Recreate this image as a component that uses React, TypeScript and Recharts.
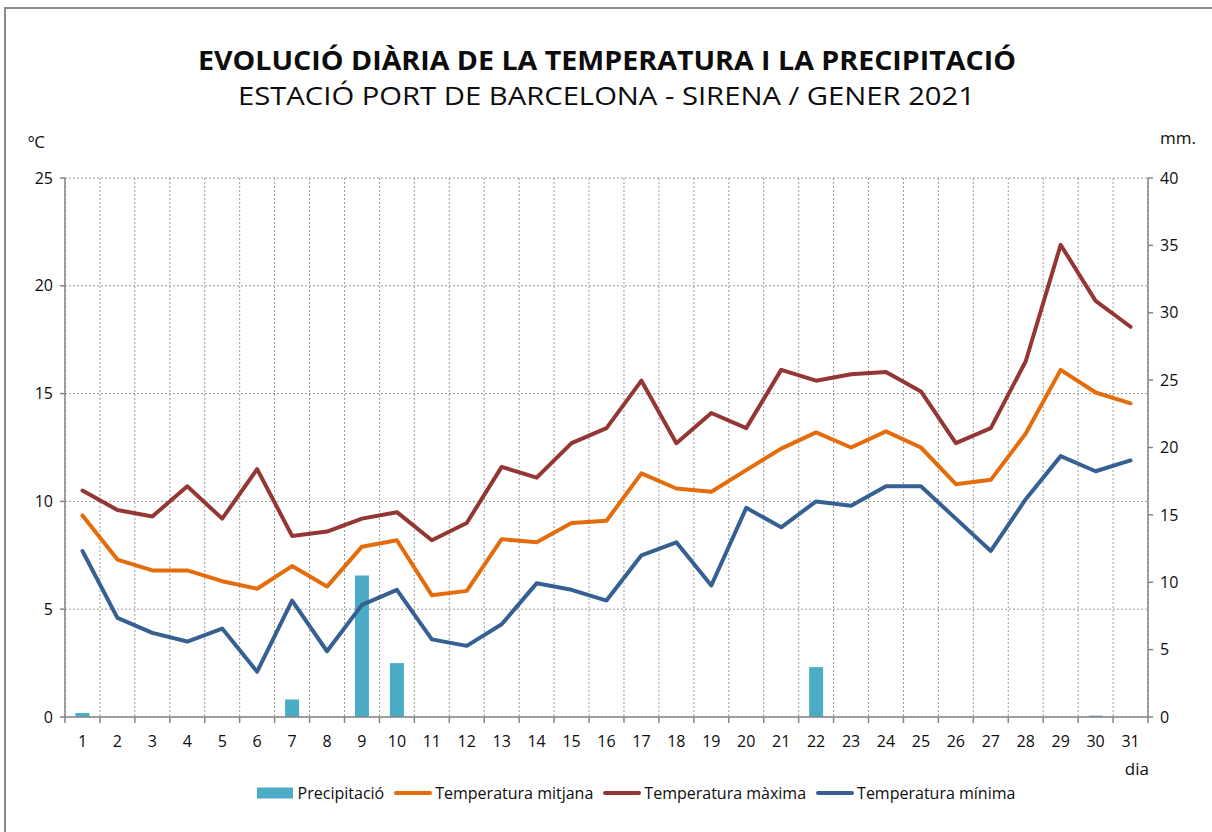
import React from "react";
import { ComposedChart, Bar, Line, XAxis, YAxis, CartesianGrid } from "recharts";

const days = ["1","2","3","4","5","6","7","8","9","10","11","12","13","14","15","16","17","18","19","20","21","22","23","24","25","26","27","28","29","30","31"];
const precipitacio = [0.3,0,0,0,0,0,1.3,0,10.5,4.0,0,0,0,0,0,0,0,0,0,0,0,3.7,0,0,0,0,0,0,0,0.1,0];
const tempMitjana = [9.35,7.3,6.8,6.8,6.3,5.95,7.0,6.05,7.9,8.2,5.65,5.85,8.25,8.1,9.0,9.1,11.3,10.6,10.45,11.45,12.45,13.2,12.5,13.25,12.5,10.8,11.0,13.15,16.1,15.05,14.55];
const tempMaxima = [10.5,9.6,9.3,10.7,9.2,11.5,8.4,8.6,9.2,9.5,8.2,9.0,11.6,11.1,12.7,13.4,15.6,12.7,14.1,13.4,16.1,15.6,15.9,16.0,15.1,12.7,13.4,16.5,21.9,19.3,18.1];
const tempMinima = [7.7,4.6,3.9,3.5,4.1,2.1,5.4,3.05,5.2,5.9,3.6,3.3,4.3,6.2,5.9,5.4,7.5,8.1,6.1,9.7,8.8,10.0,9.8,10.7,10.7,9.2,7.7,10.1,12.1,11.4,11.9];
const leftTicks = [0,5,10,15,20,25];
const rightTicks = [0,5,10,15,20,25,30,35,40];

const data = days.map((d, i) => ({
  dia: d,
  prec: precipitacio[i],
  mitjana: tempMitjana[i],
  maxima: tempMaxima[i],
  minima: tempMinima[i],
}));

const FONT = "'Open Sans', sans-serif";
const AXIS = "#868686";
const GRID = "#9a9a9a";
const TXT = "#0d0d0d";
const C_BAR = "#4BACC6";
const C_MIT = "#E46C0A";
const C_MAX = "#943634";
const C_MIN = "#376092";

const TICK_SIZE = 6;
const TICK_MARGIN = 13;
const FS = 16;

const XTick = (props: any) => {
  const { x, y, payload, index } = props;
  const half = payload && typeof payload.offset === "number" && payload.offset > 0 ? payload.offset : 17.47;
  const axisY = y - TICK_SIZE - TICK_MARGIN;
  return (
    <g>
      <line x1={x - half} x2={x - half} y1={axisY} y2={axisY + TICK_SIZE} stroke={AXIS} strokeWidth={1.5} />
      {index === days.length - 1 ? (
        <line x1={x + half} x2={x + half} y1={axisY} y2={axisY + TICK_SIZE} stroke={AXIS} strokeWidth={1.5} />
      ) : null}
      <text x={x} y={y} dy="0.71em" textAnchor="middle" fill={TXT} fontSize={FS} fontFamily={FONT}>
        {payload.value}
      </text>
    </g>
  );
};

const vGen = (p: any) => {
  const off = p && p.offset;
  if (!off) return [];
  const n = days.length;
  const pts: number[] = [];
  for (let i = 0; i <= n; i++) pts.push(off.left + (i * off.width) / n);
  return pts;
};

const legendItems = [
  { name: "Precipitació", color: C_BAR, bar: true },
  { name: "Temperatura mitjana", color: C_MIT, bar: false },
  { name: "Temperatura màxima", color: C_MAX, bar: false },
  { name: "Temperatura mínima", color: C_MIN, bar: false },
];

export default function App() {
  return (
    <div style={{ position: "absolute", left: 0, top: 0, width: 1212, height: 832, overflow: "hidden", background: "#fff", fontFamily: FONT }}>
      <div style={{ position: "absolute", left: 4, top: 7, width: 1240, height: 860, border: "2px solid #8a8a8a", boxSizing: "border-box" }} />
      <div style={{ position: "absolute", left: 0, top: 0 }}>
        <ComposedChart
          width={1212}
          height={832}
          data={data}
          margin={{ top: 178, right: 14, left: 20, bottom: 75 }}
          barCategoryGap="30%"
          style={{ fontFamily: FONT }}
        >
          <CartesianGrid
            yAxisId="left"
            stroke={GRID}
            strokeDasharray="2 2"
            strokeWidth={1}
            verticalCoordinatesGenerator={vGen}
          />
          <XAxis
            dataKey="dia"
            height={40}
            interval={0}
            tickLine={false}
            tickSize={TICK_SIZE}
            tickMargin={TICK_MARGIN}
            tick={<XTick />}
            axisLine={{ stroke: AXIS, strokeWidth: 1.5 }}
          />
          <YAxis
            yAxisId="left"
            width={45}
            domain={[0, 25]}
            ticks={leftTicks}
            interval={0}
            tickSize={5}
            tickMargin={7}
            tickLine={{ stroke: AXIS, strokeWidth: 1.5 }}
            axisLine={{ stroke: AXIS, strokeWidth: 1.5 }}
            tick={{ fill: TXT, fontSize: FS, fontFamily: FONT }}
          />
          <YAxis
            yAxisId="right"
            orientation="right"
            width={50}
            domain={[0, 40]}
            ticks={rightTicks}
            interval={0}
            tickSize={5}
            tickMargin={7}
            tickLine={{ stroke: AXIS, strokeWidth: 1.5 }}
            axisLine={{ stroke: AXIS, strokeWidth: 1.5 }}
            tick={{ fill: TXT, fontSize: FS, fontFamily: FONT }}
          />
          <Bar yAxisId="right" dataKey="prec" name="Precipitació" fill={C_BAR} isAnimationActive={false} />
          <Line yAxisId="left" type="linear" dataKey="mitjana" name="Temperatura mitjana" stroke={C_MIT} strokeWidth={4} dot={false} activeDot={false} strokeLinejoin="round" strokeLinecap="round" isAnimationActive={false} />
          <Line yAxisId="left" type="linear" dataKey="maxima" name="Temperatura màxima" stroke={C_MAX} strokeWidth={4} dot={false} activeDot={false} strokeLinejoin="round" strokeLinecap="round" isAnimationActive={false} />
          <Line yAxisId="left" type="linear" dataKey="minima" name="Temperatura mínima" stroke={C_MIN} strokeWidth={4} dot={false} activeDot={false} strokeLinejoin="round" strokeLinecap="round" isAnimationActive={false} />
        </ComposedChart>
      </div>
      <svg width={1212} height={832} style={{ position: "absolute", left: 0, top: 0, pointerEvents: "none" }}>
        <text x={607} y={69.5} textAnchor="middle" fontFamily={FONT} fontWeight={700} fontSize={26.5} fill={TXT} textLength={818} lengthAdjust="spacingAndGlyphs">
          EVOLUCIÓ DIÀRIA DE LA TEMPERATURA I LA PRECIPITACIÓ
        </text>
        <text x={606.5} y={105} textAnchor="middle" fontFamily={FONT} fontWeight={400} fontSize={26} fill={TXT} textLength={737} lengthAdjust="spacingAndGlyphs">
          ESTACIÓ PORT DE BARCELONA - SIRENA / GENER 2021
        </text>
        <text x={28} y={148} fontFamily={FONT} fontSize={17} fill={TXT}>ºC</text>
        <text x={1160} y={144} fontFamily={FONT} fontSize={17} fill={TXT}>mm.</text>
        <text x={1149} y={775} textAnchor="end" fontFamily={FONT} fontSize={17} fill={TXT}>dia</text>
      </svg>
      <div style={{ position: "absolute", left: 0, width: 1212, top: 782, height: 22, display: "flex", justifyContent: "center", alignItems: "center", paddingLeft: 70, boxSizing: "border-box" }}>
        {legendItems.map((it) => (
          <div key={it.name} style={{ display: "flex", alignItems: "center", marginRight: 10 }}>
            <svg width={38} height={14} style={{ marginRight: 3 }}>
              {it.bar ? (
                <rect x={0} y={1.5} width={36} height={11} fill={it.color} />
              ) : (
                <line x1={2} x2={36} y1={7} y2={7} stroke={it.color} strokeWidth={4} strokeLinecap="round" />
              )}
            </svg>
            <span style={{ fontSize: 16, color: TXT, fontFamily: FONT, whiteSpace: "nowrap" }}>{it.name}</span>
          </div>
        ))}
      </div>
    </div>
  );
}
